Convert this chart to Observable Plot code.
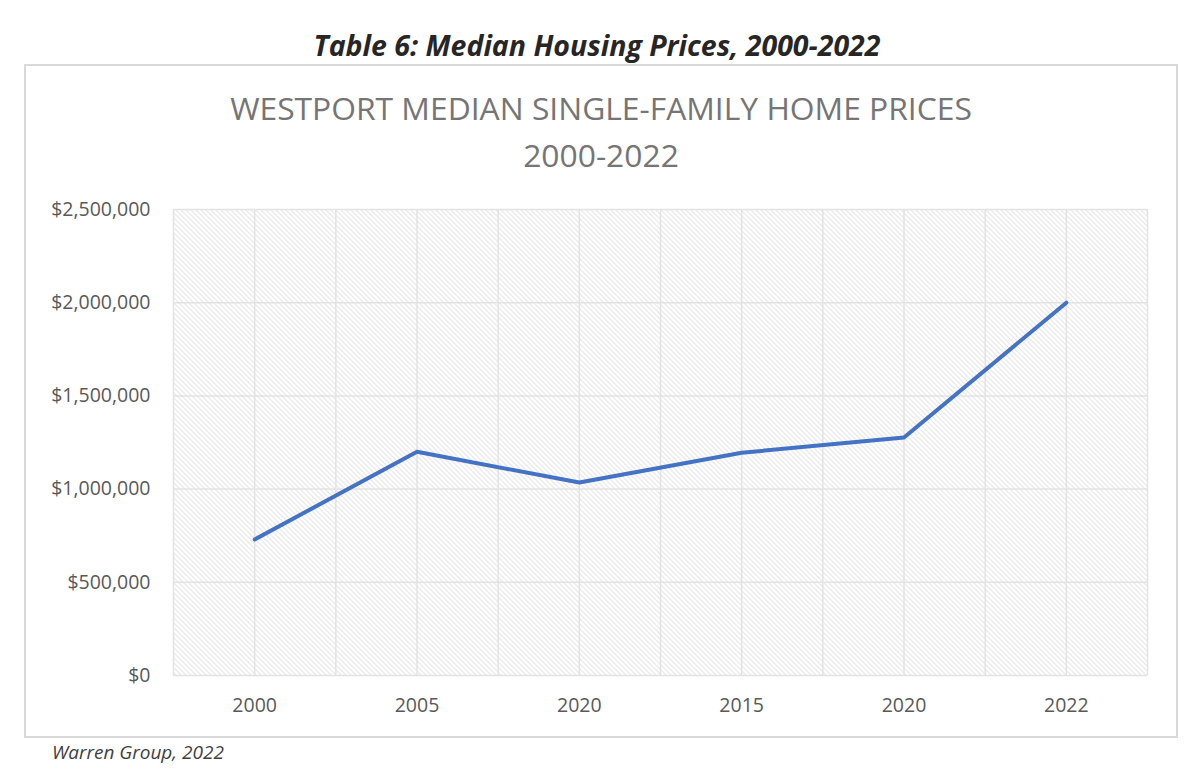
<!DOCTYPE html>
<html>
<head>
<meta charset="utf-8">
<script src="https://cdn.jsdelivr.net/npm/d3@7"></script>
<script src="https://cdn.jsdelivr.net/npm/@observablehq/plot@0.6"></script>
<style>
  html, body { margin: 0; padding: 0; background: #ffffff; }
  body { width: 1194px; height: 784px; position: relative; overflow: hidden; font-family: "Open Sans", sans-serif; }
  #title { position: absolute; top: 27px; left: 0; width: 1194px; text-align: center; font-style: italic; font-weight: 700; font-size: 28.5px; line-height: 36px; color: #262626; }
  #box { position: absolute; left: 24px; top: 64px; width: 1150px; height: 670px; border: 2px solid #d9d9d9; }
  #ctitle { position: absolute; top: 18px; left: 0; width: 1150px; text-align: center; font-size: 31.8px; line-height: 47px; color: #757575; }
  #chart { position: absolute; top: 124px; left: 0; }
  #caption { position: absolute; left: 52px; top: 740px; font-style: italic; font-size: 19px; line-height: 24px; color: #404040; }
</style>
</head>
<body>
<div id="title">Table 6: Median Housing Prices, 2000-2022</div>
<div id="box">
  <div id="ctitle">WESTPORT MEDIAN SINGLE-FAMILY HOME PRICES<br>2000-2022</div>
  <div id="chart"></div>
</div>
<div id="caption">Warren Group, 2022</div>
<script>
// Data
const years = ["2000", "2005", "2020", "2015", "2020", "2022"];
const prices = [730000, 1200000, 1035000, 1195000, 1277000, 2000000];
const yTicks = [0, 500000, 1000000, 1500000, 2000000, 2500000];

const data = years.map((y, i) => ({ i, label: y, price: prices[i] }));
const xIdx = years.map((_, i) => i);
const xGrid = d3.range(-0.5, years.length, 0.5);

const plot = Plot.plot({
  width: 1150,
  height: 545,
  marginTop: 19,
  marginBottom: 60,
  marginLeft: 147,
  marginRight: 29,
  style: { background: "transparent", color: "#595959", fontSize: "19.5px", fontFamily: "'Open Sans', sans-serif" },
  x: { domain: [-0.5, years.length - 0.5] },
  y: { domain: [0, 2500000] },
  marks: [
    Plot.frame({ fill: "url(#hatch)", stroke: "none" }),
    Plot.ruleX(xGrid, { stroke: "#e3e3e3", strokeWidth: 1.5 }),
    Plot.ruleY(yTicks, { stroke: "#e3e3e3", strokeWidth: 1.5 }),
    Plot.axisY({ ticks: yTicks, tickSize: 0, tickPadding: 23, label: null, tickFormat: d => "$" + d3.format(",")(d) }),
    Plot.axisX({ ticks: xIdx, tickSize: 0, tickPadding: 23, label: null, tickFormat: i => years[i] }),
    Plot.line(data, { x: "i", y: "price", stroke: "#4472C4", strokeWidth: 4, strokeLinejoin: "round", strokeLinecap: "round" })
  ]
});

const svg = d3.select(plot);
const defs = svg.insert("defs", ":first-child");
const pat = defs.append("pattern")
  .attr("id", "hatch")
  .attr("patternUnits", "userSpaceOnUse")
  .attr("width", 5)
  .attr("height", 5);
pat.append("rect").attr("width", 5).attr("height", 5).attr("fill", "#ffffff");
pat.append("path")
  .attr("d", "M-1,-1L6,6M-1,4L1,6M4,-1L6,1")
  .attr("stroke", "#d6d6d6")
  .attr("stroke-width", 1)
  .attr("fill", "none");

document.getElementById("chart").appendChild(plot);
</script>
</body>
</html>
